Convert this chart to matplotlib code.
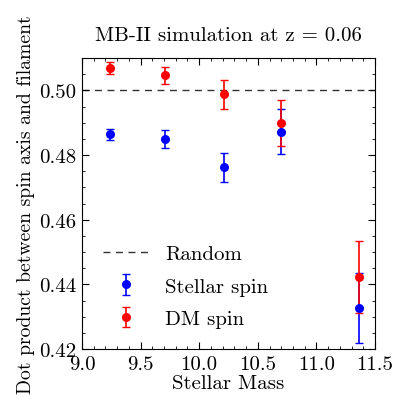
import matplotlib
matplotlib.use("Agg")
import matplotlib.pyplot as plt
from matplotlib.ticker import MultipleLocator

plt.rcParams['font.family'] = 'serif'
plt.rcParams['font.serif'] = ['cmr10']
plt.rcParams['mathtext.fontset'] = 'cm'
plt.rcParams['axes.formatter.use_mathtext'] = True

mass = [9.236, 9.706, 10.21, 10.70, 11.366]
stellar = [0.4864, 0.4850, 0.4763, 0.4873, 0.4328]
stellar_err = [0.0018, 0.0027, 0.0045, 0.0070, 0.0108]
dm = [0.5070, 0.5047, 0.4988, 0.4899, 0.4424]
dm_err = [0.0018, 0.0027, 0.0045, 0.0072, 0.0111]
random_level = 0.5

fig = plt.figure(figsize=(3.94, 4.02), dpi=100)
ax = fig.add_axes([0.208, 0.129, 0.744, 0.724])

ax.axhline(random_level, color='black', ls='--', lw=1.0, dashes=(5, 4), alpha=0.8, label='Random')
ax.errorbar(mass, stellar, yerr=stellar_err, fmt='o', color='blue', ms=5.5, capsize=3,
            elinewidth=1.2, label='Stellar spin')
ax.errorbar(mass, dm, yerr=dm_err, fmt='o', color='red', ms=5.5, capsize=3,
            elinewidth=1.2, label='DM spin')

ax.set_xlim(9.0, 11.5)
ax.set_ylim(0.42, 0.51)
ax.xaxis.set_major_locator(MultipleLocator(0.5))
ax.xaxis.set_minor_locator(MultipleLocator(0.1))
ax.yaxis.set_major_locator(MultipleLocator(0.02))
ax.yaxis.set_minor_locator(MultipleLocator(0.005))
ax.tick_params(which='both', direction='in', top=True, right=True, labelsize=15)
ax.tick_params(which='major', length=5, pad=4)
ax.tick_params(which='minor', length=2.5)
ax.set_yticks([0.42, 0.44, 0.46, 0.48, 0.50])
ax.set_yticklabels(['0.42', '0.44', '0.46', '0.48', '0.50'])
ax.set_xticks([9.0, 9.5, 10.0, 10.5, 11.0, 11.5])
ax.set_xticklabels(['9.0', '9.5', '10.0', '10.5', '11.0', '11.5'])

ax.set_xlabel('Stellar Mass', fontsize=15, labelpad=1)
ax.set_ylabel('Dot product between spin axis and filament', fontsize=14.2, labelpad=3)
ax.set_title('MB-II simulation at z = 0.06', fontsize=15, pad=13)
ax.legend(loc='lower left', frameon=False, fontsize=15, handlelength=2.2,
          borderaxespad=0.6, labelspacing=0.68)

fig.savefig('out.png', dpi=100)
